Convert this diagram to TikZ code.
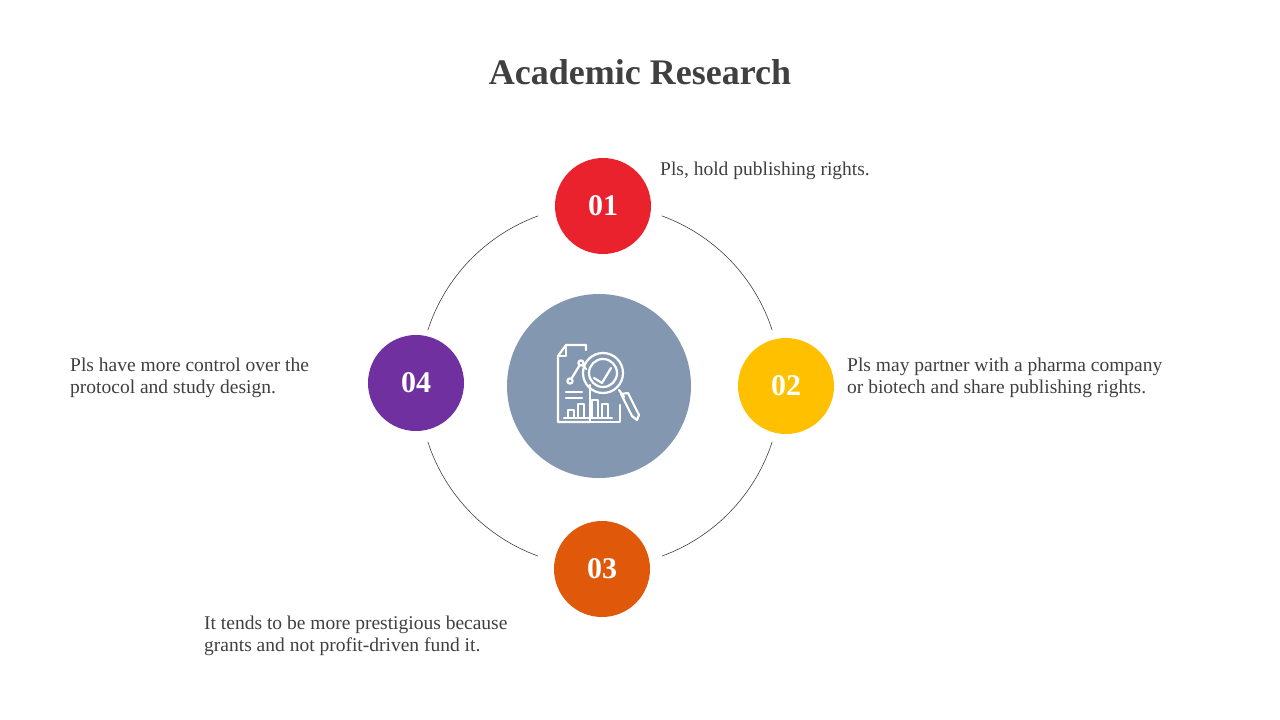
\documentclass[tikz,border=0pt]{standalone}
\usepackage{fontspec}
\usetikzlibrary{calc}
\setmainfont{Liberation Serif}
\begin{document}
\begin{tikzpicture}[x=1pt,y=-1pt,
  num/.style={circle,minimum size=96pt,inner sep=0pt,text=white,font=\fontsize{30}{30}\selectfont\bfseries},
  desc/.style={anchor=west,align=left,text=txt,font=\fontsize{19.5}{22}\selectfont,inner sep=0pt},
  ico/.style={draw=white,line width=2.2pt,line join=round,line cap=round}]
\definecolor{txt}{HTML}{404040}
\definecolor{cred}{HTML}{EA222D}
\definecolor{cyel}{HTML}{FFC000}
\definecolor{corg}{HTML}{E0580A}
\definecolor{cpur}{HTML}{7030A0}
\definecolor{cblu}{HTML}{8497B0}
\useasboundingbox (0,0) rectangle (1280,720);
\node[text=txt,font=\fontsize{36}{36}\selectfont\bfseries] (title) at (640,72) {Academic Research};
\coordinate (c) at (600,386);
\foreach \a/\b in {18/70,110/162,198/250,290/342}
  \draw[black!75,line width=0.6pt] ($(c)+(\a:181)$) arc[start angle=\a,end angle=\b,radius=181];
\node[circle,fill=cblu,minimum size=184pt,inner sep=0pt] (center) at (599,386) {};
\node[num,fill=cred] (n1) at (603,206) {01};
\node[num,fill=cyel] (n2) at (786,386) {02};
\node[num,fill=corg] (n3) at (602,569) {03};
\node[num,fill=cpur] (n4) at (416,383) {04};
\node[desc] (t1) at (660,171) {Pls, hold publishing rights.};
\node[desc] (t2) at (847,378) {Pls may partner with a pharma company\\or biotech and share publishing rights.};
\node[desc] (t4) at (70,378) {Pls have more control over the\\protocol and study design.};
\node[desc] (t3) at (204,636) {It tends to be more prestigious because\\grants and not profit-driven fund it.};
% icon
\draw[ico] (590,385) -- (590,422) -- (620,422) -- (620,405);
\draw[ico] (586,350) -- (586,345) -- (566,345) -- (558,356) -- (558,422) -- (590,422);
\draw[ico] (566,345) -- (566,356) -- (558,356);
\draw[ico] (570,381) -- (581,363) -- (586,369);
\fill[cblu] (570,381) circle (3pt); \draw[ico] (570,381) circle (2.6pt);
\fill[cblu] (581,363) circle (3pt); \draw[ico] (581,363) circle (2.6pt);
\draw[ico] (566,392) -- (582,392) (566,398) -- (582,398);
\draw[ico] (568,418) -- (568,410) -- (574,410) -- (574,418) (578,418) -- (578,404) -- (584,404) -- (584,418);
\draw[ico] (592,418) -- (592,400) -- (598,400) -- (598,418) (602,418) -- (602,404) -- (608,404) -- (608,418);
\draw[ico] (564,418) -- (612,418);
\draw[ico] (603,373) circle (20pt);
\draw[ico] (603,373) circle (14pt);
\draw[ico] (594,378) -- (602,383) -- (611,368);
\draw[ico] (619,390) -- (624,397);
\draw[ico] (621,394) -- (632,416) -- (637,420) -- (639,415) -- (628,393) -- cycle;
\end{tikzpicture}
\end{document}
